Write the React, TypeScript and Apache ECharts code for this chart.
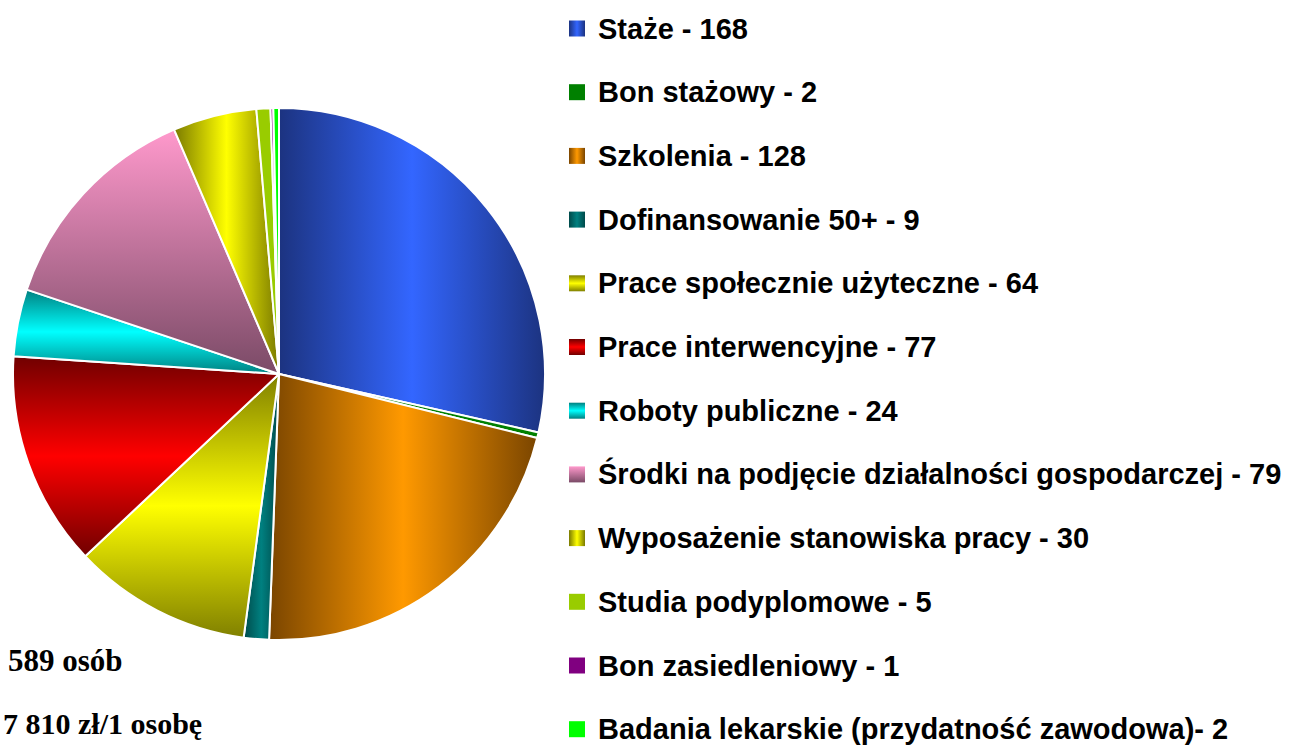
import React, { useEffect, useRef } from "react";
import * as echarts from "echarts";

const names = [
  "Staże",
  "Bon stażowy",
  "Szkolenia",
  "Dofinansowanie 50+",
  "Prace społecznie użyteczne",
  "Prace interwencyjne",
  "Roboty publiczne",
  "Środki na podjęcie działalności gospodarczej",
  "Wyposażenie stanowiska pracy",
  "Studia podyplomowe",
  "Bon zasiedleniowy",
  "Badania lekarskie (przydatność zawodowa)",
];
const values = [168, 2, 128, 9, 64, 77, 24, 79, 30, 5, 1, 2];
const brightColors = ["#3366ff", "#008000", "#ff9900", "#008080", "#ffff00", "#ff0000", "#00ffff", "#ff99cc", "#ffff00", "#99cc00", "#800080", "#00ff00"];
const darkColors = ["#1c3380", "#008000", "#7a4500", "#004a4a", "#808000", "#700000", "#008080", "#7a4a66", "#7a7a00", "#99cc00", "#800080", "#00ff00"];
// h = horizontal dark-bright-dark, v = vertical dark-bright-dark, d = vertical bright-dark, n = solid
const gradientKinds = ["h", "n", "h", "h", "v", "v", "v", "d", "h", "n", "n", "n"];
const summaryLines = ["589 osób", "7 810 zł/1 osobę"];

function makeColor(i: number) {
  const b = brightColors[i];
  const d = darkColors[i];
  const k = gradientKinds[i];
  if (k === "h")
    return new echarts.graphic.LinearGradient(0, 0, 1, 0, [
      { offset: 0, color: d },
      { offset: 0.5, color: b },
      { offset: 1, color: d },
    ]);
  if (k === "v")
    return new echarts.graphic.LinearGradient(0, 0, 0, 1, [
      { offset: 0, color: d },
      { offset: 0.5, color: b },
      { offset: 1, color: d },
    ]);
  if (k === "d")
    return new echarts.graphic.LinearGradient(0, 0, 0, 1, [
      { offset: 0, color: b },
      { offset: 1, color: d },
    ]);
  return b;
}

export default function App() {
  const ref = useRef<HTMLDivElement>(null);
  useEffect(() => {
    if (!ref.current) return;
    const chart = echarts.init(ref.current, null, { renderer: "svg" });
    const data = names.map((n, i) => ({
      name: n,
      value: values[i],
      itemStyle: { color: makeColor(i) },
    }));
    chart.setOption({
      animation: false,
      backgroundColor: "#ffffff",
      legend: {
        orient: "vertical",
        left: 569,
        top: 14,
        height: 900,
        width: 720,
        padding: 0,
        icon: "rect",
        itemWidth: 16,
        itemHeight: 16,
        itemGap: 34.7,
        selectedMode: false,
        itemStyle: { borderWidth: 0 },
        formatter: (name: string) => {
          const i = names.indexOf(name);
          const sep = name.endsWith(")") ? "- " : " - ";
          return name + sep + values[i];
        },
        textStyle: {
          fontSize: 29,
          fontWeight: "bold",
          fontFamily: "'Liberation Sans', Arial, sans-serif",
          color: "#000000",
          lineHeight: 28,
          padding: [0, 0, 0, 8],
        },
      },
      graphic: [
        {
          type: "text",
          left: 8,
          top: 645,
          style: {
            text: summaryLines[0],
            font: "bold 31px 'Liberation Serif', 'Times New Roman', serif",
            fill: "#000",
          },
        },
        {
          type: "text",
          left: 3,
          top: 708,
          style: {
            text: summaryLines[1],
            font: "bold 30px 'Liberation Serif', 'Times New Roman', serif",
            fill: "#000",
          },
        },
      ],
      series: [
        {
          type: "pie",
          center: [279, 374],
          radius: 266,
          startAngle: 90,
          clockwise: true,
          label: { show: false },
          labelLine: { show: false },
          emphasis: { disabled: true },
          itemStyle: { borderColor: "#ffffff", borderWidth: 2 },
          data,
        },
      ],
    });
    return () => chart.dispose();
  }, []);
  return (
    <div
      ref={ref}
      style={{ position: "fixed", left: 0, top: 0, width: 1295, height: 745 }}
    />
  );
}
